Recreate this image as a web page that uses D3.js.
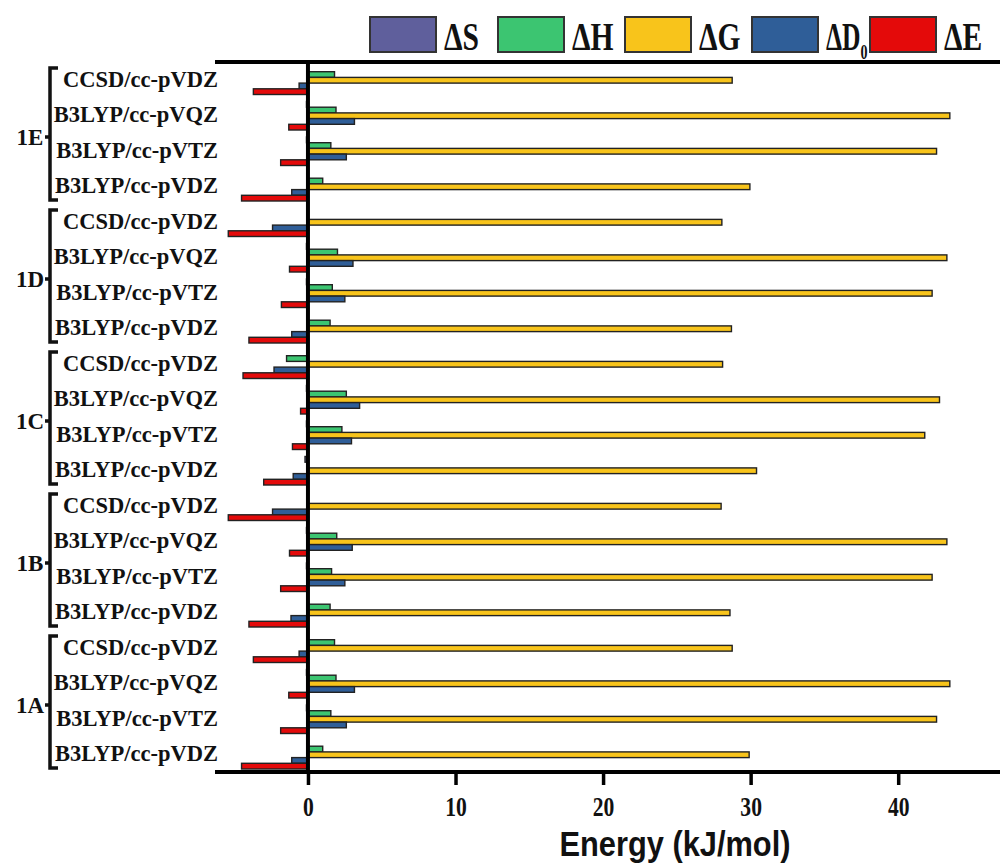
<!DOCTYPE html>
<meta charset="utf-8">
<script src="https://d3js.org/d3.v7.min.js"></script>
<style>
  body { margin: 0; background: #fff; }
  text { font-family: "Liberation Serif", "Times New Roman", serif; font-weight: bold; fill: #111; }
</style>
<body>
<svg width="1006" height="865"></svg>
<script>
    // chart data, top row to bottom row
    var groups  = ['1E', '1D', '1C', '1B', '1A'];
    var methods = ['CCSD/cc-pVDZ', 'B3LYP/cc-pVQZ', 'B3LYP/cc-pVTZ', 'B3LYP/cc-pVDZ'];
    var series  = ['dS', 'dH', 'dG', 'dD0', 'dE'];
    var ticks   = [0, 10, 20, 30, 40];

    var dS  = [0, -0.1, -0.1, 0,     0, -0.1, -0.1, 0,     0, -0.1, -0.1, -0.2,   0, -0.1, -0.1, 0,     0, -0.1, -0.1, 0];
    var dH  = [1.8, 1.9, 1.55, 1.0,  0, 2.0, 1.65, 1.5,    -1.45, 2.6, 2.3, 0,    0, 1.95, 1.6, 1.5,    1.8, 1.9, 1.55, 1.0];
    var dG  = [28.75, 43.5, 42.6, 29.95,  28.05, 43.3, 42.3, 28.7,  28.1, 42.8, 41.8, 30.4,  28.0, 43.3, 42.3, 28.6,  28.75, 43.5, 42.6, 29.9];
    var dD0 = [-0.6, 3.15, 2.6, -1.1,  -2.4, 3.05, 2.5, -1.1,  -2.3, 3.5, 2.95, -1.0,  -2.4, 3.0, 2.5, -1.15,  -0.6, 3.15, 2.6, -1.1];
    var dE  = [-3.7, -1.3, -1.85, -4.5,  -5.4, -1.25, -1.8, -4.0,  -4.4, -0.5, -1.05, -3.0,  -5.4, -1.25, -1.85, -4.0,  -3.7, -1.3, -1.85, -4.5];

    var values  = { dS: dS, dH: dH, dG: dG, dD0: dD0, dE: dE };
    var colors  = { dS: '#5f5f9c', dH: '#3cc571', dG: '#f8c41b', dD0: '#2f5e98', dE: '#e40a0a' };

    var rows = [];
    groups.forEach(function(g){ methods.forEach(function(m){ rows.push(g + '|' + m); }); });

    var svg = d3.select('svg');
    var plotLeft = 215, plotRight = 1000, plotTop = 62, plotBottom = 772;

    var x = d3.scaleLinear().domain([-6.3, 46.9]).range([plotLeft, plotRight]);
    var y = d3.scaleBand().domain(rows).range([plotTop, plotBottom]);
    var ySub = d3.scaleBand().domain(series).range([4, 32.5]);

    // bars
    var bars = [];
    rows.forEach(function(r, i){
        series.forEach(function(s){ bars.push({ row: r, s: s, v: values[s][i] }); });
    });

    svg.append('g').selectAll('rect')
        .data(bars.filter(function(d){ return d.v !== 0; }))
        .enter().append('rect')
        .attr('x', function(d){ return Math.min(x(0), x(d.v)); })
        .attr('width', function(d){ return Math.abs(x(d.v) - x(0)); })
        .attr('y', function(d){ return y(d.row) + ySub(d.s); })
        .attr('height', ySub.bandwidth())
        .attr('fill', function(d){ return colors[d.s]; })
        .attr('stroke', '#222')
        .attr('stroke-width', 1.4);

    // zero line
    svg.append('line')
        .attr('x1', x(0)).attr('x2', x(0))
        .attr('y1', plotTop).attr('y2', plotBottom)
        .attr('stroke', '#000').attr('stroke-width', 4);

    // top frame line
    svg.append('line')
        .attr('x1', plotLeft).attr('x2', plotRight)
        .attr('y1', plotTop).attr('y2', plotTop)
        .attr('stroke', '#000').attr('stroke-width', 4);

    // bottom axis
    var xAxis = d3.axisBottom(x).tickValues(ticks).tickSize(13).tickPadding(12).tickFormat(d3.format('d'));
    var ax = svg.append('g').attr('transform', 'translate(0,' + plotBottom + ')').call(xAxis);
    ax.select('.domain').attr('d', 'M' + plotLeft + ',0H' + plotRight).attr('stroke', '#000').attr('stroke-width', 4);
    ax.selectAll('.tick line').attr('stroke', '#000').attr('stroke-width', 3.5);
    ax.selectAll('.tick text')
        .attr('font-family', '"Liberation Serif", serif')
        .attr('font-weight', 'bold')
        .attr('font-size', 27)
        .attr('fill', '#111')
        .attr('transform', 'scale(0.8,1)');

    // axis title
    svg.append('text')
        .attr('transform', 'translate(675,856) scale(0.88,1)')
        .attr('text-anchor', 'middle')
        .style('font-family', '"Liberation Sans", Arial, sans-serif')
        .attr('font-size', 35)
        .text('Energy (kJ/mol)');

    // method labels
    svg.append('g').selectAll('text')
        .data(rows)
        .enter().append('text')
        .attr('x', 218)
        .attr('y', function(d){ return y(d) + y.bandwidth() / 2 + 7; })
        .attr('text-anchor', 'end')
        .attr('font-size', 22.5)
        .text(function(d){ return d.split('|')[1]; });

    // group brackets and labels
    var gb = svg.append('g').selectAll('g')
        .data(groups)
        .enter().append('g');

    gb.append('path')
        .attr('d', function(g){
            var y0 = y(g + '|' + methods[0]) + 6,
                y1 = y(g + '|' + methods[methods.length - 1]) + y.bandwidth() - 4,
                ym = (y0 + y1) / 2 + 3;
            return 'M58,' + y0 + 'H50V' + y1 + 'H58M50,' + ym + 'H45';
        })
        .attr('fill', 'none')
        .attr('stroke', '#111')
        .attr('stroke-width', 3.5);

    gb.append('text')
        .attr('x', 30)
        .attr('y', function(g){
            var y0 = y(g + '|' + methods[0]), y1 = y(g + '|' + methods[methods.length - 1]) + y.bandwidth();
            return (y0 + y1) / 2 + 12;
        })
        .attr('text-anchor', 'middle')
        .attr('font-size', 23)
        .text(function(g){ return g; });

    // legend
    var legendX = [370, 498, 625, 752, 870];
    var lg = svg.append('g').selectAll('g')
        .data(series)
        .enter().append('g')
        .attr('transform', function(d, i){ return 'translate(' + legendX[i] + ',17)'; });

    lg.append('rect')
        .attr('width', 66).attr('height', 35)
        .attr('fill', function(d){ return colors[d]; })
        .attr('stroke', '#333').attr('stroke-width', 2);

    var lt = lg.append('text')
        .attr('transform', function(d){ return 'translate(74,33) scale(' + (d === 'dD0' ? 0.64 : 0.74) + ',1)'; })
        .attr('font-size', 40);
    lt.append('tspan').text(function(d){ return '\u0394' + d.charAt(1); });
    lt.filter(function(d){ return d === 'dD0'; })
        .append('tspan').attr('font-size', 22).attr('dy', 9).text('0');
</script>
</body>
